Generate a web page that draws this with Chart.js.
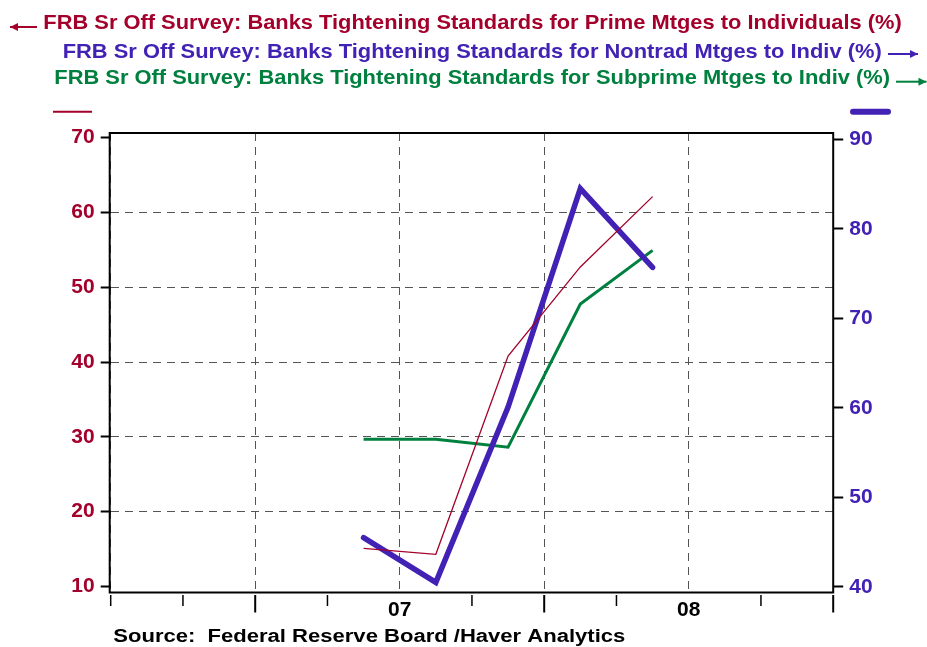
<!DOCTYPE html>
<html>
<head>
<meta charset="utf-8">
<script src="https://cdn.jsdelivr.net/npm/chart.js@4"></script>
<style>
  html, body { margin: 0; padding: 0; background: #fff; }
  canvas { display: block; }
</style>
</head>
<body>
<canvas id="c" width="927" height="647"></canvas>
<script>
// Senior Loan Officer Survey: net % of banks tightening mortgage standards
const quarters = ['2006Q4', '2007Q1', '2007Q2', '2007Q3', '2007Q4'];
const primeMtges = [15.1, 14.3, 40.8, 52.7, 62.1];      // left axis
const nontradMtges = [45.5, 40.5, 60.1, 84.5, 75.7];    // right axis
const subprimeMtges = [56.5, 56.5, 55.6, 71.6, 77.6];   // right axis

const leftTicks = [10, 20, 30, 40, 50, 60, 70];
const rightTicks = [40, 50, 60, 70, 80, 90];
const yearTicks = [2007, 2008];
const yearLabels = ['07', '08'];

const seriesTitles = [
  'FRB Sr Off Survey: Banks Tightening Standards for Prime Mtges to Individuals (%)',
  'FRB Sr Off Survey: Banks Tightening Standards for Nontrad Mtges to Indiv (%)',
  'FRB Sr Off Survey: Banks Tightening Standards for Subprime Mtges to Indiv (%)'
];
const sourceNote = 'Source:  Federal Reserve Board /Haver Analytics';

const RED = '#A3002B';
const BLUE = '#4222B4';
const GREEN = '#00803E';
const GRID = '#555555';
const FONT = '"Liberation Sans", Arial, Helvetica, sans-serif';

const X_MIN = 2006, X_MAX = 2008.5;

// centre of a quarter, in fractional years
function quarterMid(q) {
  const y = +q.slice(0, 4), n = +q.slice(5);
  return y + (n - 0.5) / 4;
}
function points(values) {
  return quarters.map((q, i) => ({ x: quarterMid(q), y: values[i] }));
}

const halfYears = [];
for (let v = X_MIN; v <= X_MAX + 1e-9; v += 0.5) halfYears.push(v);
const quarterMarks = [];
for (let v = X_MIN; v <= X_MAX + 1e-9; v += 0.25) quarterMarks.push(v);

// condensed heading text: fixed height, squeezed to a given run length
function fitText(ctx, str, x, baseline, width, font, color) {
  ctx.save();
  ctx.font = font;
  ctx.fillStyle = color;
  ctx.textBaseline = 'alphabetic';
  ctx.textAlign = 'left';
  const w = ctx.measureText(str).width;
  ctx.translate(x, baseline);
  ctx.scale(width / w, 1);
  ctx.fillText(str, 0, 0);
  ctx.restore();
}

function arrow(ctx, x1, x2, y, dir, color) {
  ctx.save();
  ctx.strokeStyle = color;
  ctx.fillStyle = color;
  ctx.lineWidth = 2;
  ctx.beginPath();
  ctx.moveTo(x1, y);
  ctx.lineTo(x2, y);
  ctx.stroke();
  const tip = dir > 0 ? x2 : x1;
  ctx.beginPath();
  ctx.moveTo(tip, y);
  ctx.lineTo(tip - dir * 8, y - 4);
  ctx.lineTo(tip - dir * 8, y + 4);
  ctx.closePath();
  ctx.fill();
  ctx.restore();
}

const decorations = {
  id: 'decorations',
  afterDraw(chart) {
    const ctx = chart.ctx;
    const ca = chart.chartArea;
    const xs = chart.scales.x;

    // plot frame
    ctx.save();
    ctx.strokeStyle = '#000';
    ctx.lineWidth = 2;
    ctx.strokeRect(ca.left - 1, ca.top, ca.right - ca.left + 1, ca.bottom - ca.top);
    ctx.restore();

    // quarterly tick marks under the frame (year boundaries carry the labels)
    ctx.save();
    ctx.strokeStyle = '#000';
    quarterMarks.forEach(v => {
      if (yearTicks.some(y => Math.abs(y - v) < 1e-9)) return;
      const px = xs.getPixelForValue(v);
      const midYear = Math.abs((v % 1) - 0.5) < 1e-9;
      ctx.lineWidth = midYear ? 2 : 1.5;
      ctx.beginPath();
      ctx.moveTo(px, ca.bottom + 2.5);
      ctx.lineTo(px, ca.bottom + (midYear ? 20 : 13.5));
      ctx.stroke();
    });
    ctx.restore();

    // series titles with axis arrows
    const tf = 'bold 21px ' + FONT;
    arrow(ctx, 10, 37, 27, -1, RED);
    fitText(ctx, seriesTitles[0], 43.3, 28.8, 858.4, tf, RED);
    fitText(ctx, seriesTitles[1], 62.7, 57.5, 819, tf, BLUE);
    arrow(ctx, 888, 918, 54, 1, BLUE);
    fitText(ctx, seriesTitles[2], 54.3, 84, 835.7, tf, GREEN);
    arrow(ctx, 896, 926.5, 81.7, 1, GREEN);

    // line samples
    ctx.save();
    ctx.strokeStyle = RED;
    ctx.lineWidth = 2;
    ctx.beginPath();
    ctx.moveTo(53, 111.7);
    ctx.lineTo(92, 111.7);
    ctx.stroke();
    ctx.strokeStyle = BLUE;
    ctx.lineWidth = 6;
    ctx.lineCap = 'round';
    ctx.beginPath();
    ctx.moveTo(853, 111.7);
    ctx.lineTo(888, 111.7);
    ctx.stroke();
    ctx.restore();

    // source line
    fitText(ctx, sourceNote, 113.3, 642, 512, 'bold 17.5px ' + FONT, '#000');
  }
};

const tickFont = { family: FONT, size: 21, weight: 'bold' };

new Chart(document.getElementById('c'), {
  type: 'line',
  data: {
    datasets: [
      {
        label: seriesTitles[0],
        data: points(primeMtges),
        yAxisID: 'y',
        borderColor: RED,
        borderWidth: 1.3,
        pointRadius: 0,
        tension: 0,
        order: 0
      },
      {
        label: seriesTitles[1],
        data: points(nontradMtges),
        yAxisID: 'y1',
        borderColor: BLUE,
        borderWidth: 5.5,
        borderCapStyle: 'round',
        borderJoinStyle: 'miter',
        pointRadius: 0,
        tension: 0,
        order: 1
      },
      {
        label: seriesTitles[2],
        data: points(subprimeMtges),
        yAxisID: 'y1',
        borderColor: GREEN,
        borderWidth: 3,
        pointRadius: 0,
        tension: 0,
        order: 2
      }
    ]
  },
  options: {
    responsive: false,
    animation: false,
    devicePixelRatio: 1,
    layout: { padding: { top: 133, left: 0, right: 0, bottom: 0 } },
    plugins: { legend: { display: false }, tooltip: { enabled: false } },
    scales: {
      x: {
        type: 'linear',
        position: 'bottom',
        min: X_MIN,
        max: X_MAX,
        afterBuildTicks: s => { s.ticks = halfYears.map(v => ({ value: v })); },
        afterFit: s => { s.height = 54.5; },
        grid: { color: GRID, lineWidth: 1, drawTicks: false },
        border: { display: false, dash: [8, 6] },
        ticks: {
          autoSkip: false,
          maxRotation: 0,
          padding: 5,
          color: '#000',
          font: tickFont,
          callback: v => {
            const i = yearTicks.findIndex(y => Math.abs(y - v) < 1e-9);
            return i >= 0 ? yearLabels[i] : '';
          }
        }
      },
      y: {
        type: 'linear',
        position: 'left',
        min: 9.2,
        max: 70.6,
        afterBuildTicks: s => { s.ticks = leftTicks.map(v => ({ value: v })); },
        afterFit: s => { s.width = 110.7; },
        grid: {
          color: c => (c.tick && (c.tick.value === leftTicks[0] || c.tick.value === leftTicks[leftTicks.length - 1])) ? 'rgba(0,0,0,0)' : GRID,
          lineWidth: 1,
          drawTicks: true,
          tickLength: 10,
          tickColor: '#000',
          tickWidth: 2,
          tickBorderDash: []
        },
        border: { display: false, dash: [8, 6] },
        ticks: { color: RED, font: tickFont, padding: 6 }
      },
      y1: {
        type: 'linear',
        position: 'right',
        min: 39.37,
        max: 90.72,
        afterBuildTicks: s => { s.ticks = rightTicks.map(v => ({ value: v })); },
        afterFit: s => { s.width = 93.8; },
        grid: {
          drawOnChartArea: false,
          drawTicks: true,
          tickLength: 10,
          tickColor: '#000',
          tickWidth: 2,
          tickBorderDash: []
        },
        border: { display: false },
        ticks: { color: BLUE, font: tickFont, padding: 6 }
      }
    }
  },
  plugins: [decorations]
});
</script>
</body>
</html>
